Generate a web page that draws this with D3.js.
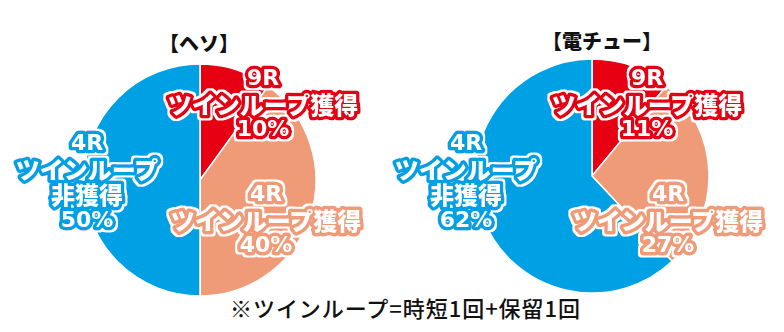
<!DOCTYPE html>
<html>
<head>
<meta charset="utf-8">
<script src="https://cdn.jsdelivr.net/npm/d3@7"></script>
<style>
  html, body { margin: 0; padding: 0; background: #fff; }
  svg { display: block; }
</style>
</head>
<body>
<svg id="chart" width="784" height="332"></svg>
<script>
// Share of each outcome, clockwise from 12 o'clock
const categories = ["9R ツインループ獲得", "4R ツインループ獲得", "4R ツインループ非獲得"];
const hesoValues = [10, 40, 50];
const denchuValues = [11, 27, 62];
const chartTitles = ["【ヘソ】", "【電チュー】"];
const labelLines = [
  ["9R", "ツインループ獲得"],
  ["4R", "ツインループ獲得"],
  ["4R", "ツインループ", "非獲得"]
];
const footnote = "※ツインループ=時短1回+保留1回";

const colors = ["#e60012", "#f09b78", "#00a0e5"];

// Pie geometry and label anchors (offsets from the pie centre)
const pies = [
  { values: hesoValues, title: chartTitles[0], cx: 200, cy: 180, r: 116, titleX: 199, titleY: 42,
    anchors: [[63, -103], [66, 13], [-113, -38]] },
  { values: denchuValues, title: chartTitles[1], cx: 592, cy: 176, r: 117, titleX: 602, titleY: 40,
    anchors: [[55, -99], [76, 17], [-126, -34]] }
];

const svg = d3.select("#chart");
const cjkFont = "'Noto Sans CJK JP', 'Noto Sans', sans-serif";
const latinFont = "'DejaVu Sans', 'Noto Sans', sans-serif";
const lineGap = 25.5;

// Thin white rim drawn around each haloed label
const defs = svg.append("defs");
const rim = defs.append("filter")
  .attr("id", "rim")
  .attr("x", "-20%").attr("y", "-20%")
  .attr("width", "140%").attr("height", "140%");
rim.append("feMorphology")
  .attr("in", "SourceAlpha").attr("operator", "dilate").attr("radius", 2.2).attr("result", "grow");
rim.append("feFlood").attr("flood-color", "#fff").attr("result", "white");
rim.append("feComposite").attr("in", "white").attr("in2", "grow").attr("operator", "in").attr("result", "edge");
const merge = rim.append("feMerge");
merge.append("feMergeNode").attr("in", "edge");
merge.append("feMergeNode").attr("in", "SourceGraphic");

const pie = d3.pie().sort(null).value(d => d);
const isLatin = s => /^[0-9A-Z%]+$/.test(s);

pies.forEach(p => {
  const g = svg.append("g").attr("transform", `translate(${p.cx},${p.cy})`);
  const arc = d3.arc().innerRadius(0).outerRadius(p.r);

  g.selectAll("path.slice")
    .data(pie(p.values))
    .join("path")
    .attr("class", "slice")
    .attr("d", arc)
    .attr("fill", (d, i) => colors[i])
    .attr("stroke", "#fff")
    .attr("stroke-width", 1.5)
    .attr("stroke-linejoin", "round");

  svg.append("text")
    .attr("x", p.titleX)
    .attr("y", p.titleY)
    .attr("text-anchor", "middle")
    .attr("dominant-baseline", "central")
    .attr("font-family", cjkFont)
    .attr("font-weight", 900)
    .attr("font-size", 20)
    .attr("fill", "#111")
    .text(p.title);

  // Slice labels: white lettering with a halo in the slice colour
  p.values.forEach((v, i) => {
    const lines = labelLines[i].concat([v + "%"]);
    const [ax, ay] = p.anchors[i];
    const t = g.append("text")
      .attr("transform", `translate(${ax},${ay})`)
      .attr("text-anchor", "middle")
      .attr("dominant-baseline", "central")
      .attr("fill", "#fff")
      .attr("stroke", colors[i])
      .attr("stroke-width", 7)
      .attr("stroke-linejoin", "round")
      .attr("paint-order", "stroke")
      .attr("filter", "url(#rim)");
    t.selectAll("tspan")
      .data(lines)
      .join("tspan")
      .attr("x", 0)
      .attr("y", (d, k) => k * lineGap)
      .attr("font-family", d => isLatin(d) ? latinFont : cjkFont)
      .attr("font-weight", d => isLatin(d) ? 700 : 900)
      .attr("font-size", d => isLatin(d) ? 22 : 24)
      .text(d => d);
  });
});

svg.append("text")
  .attr("x", 405)
  .attr("y", 307)
  .attr("text-anchor", "middle")
  .attr("dominant-baseline", "central")
  .attr("font-family", cjkFont)
  .attr("font-weight", 500)
  .attr("font-size", 22)
  .attr("textLength", 350)
  .attr("lengthAdjust", "spacing")
  .attr("fill", "#111")
  .text(footnote);
</script>
</body>
</html>
